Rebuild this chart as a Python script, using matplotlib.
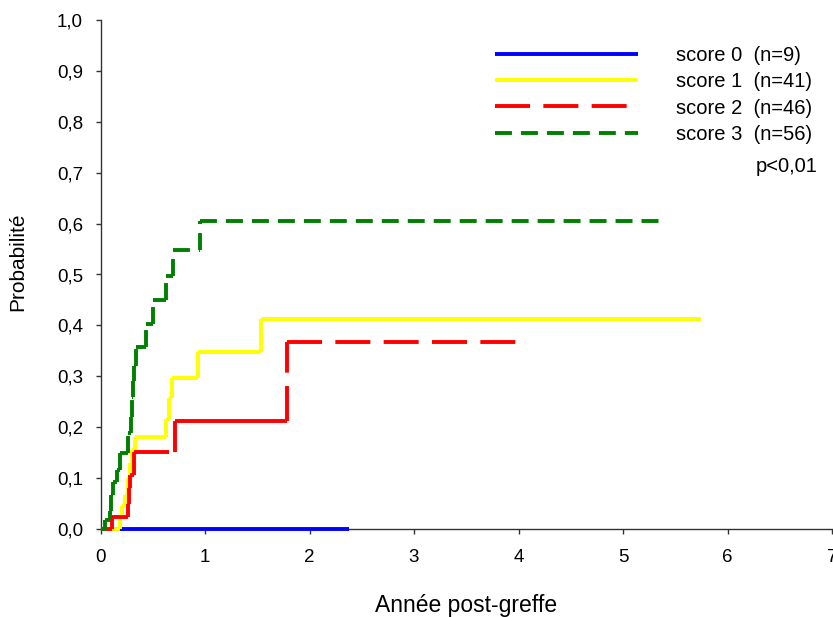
import matplotlib
matplotlib.use("Agg")
import matplotlib.pyplot as plt
from matplotlib.ticker import FuncFormatter, MultipleLocator

plt.rcParams['font.family'] = ['Liberation Sans', 'DejaVu Sans']
plt.rcParams['lines.scale_dashes'] = False

# Cumulative incidence curves (Kaplan-Meier style), time in years
t_score0 = [0.0, 2.38]
p_score0 = [0.0, 0.0]

t_score1 = [0.0, 0.19, 0.21, 0.235, 0.26, 0.28, 0.30, 0.33, 0.63, 0.66, 0.68, 0.935, 1.54, 5.75]
p_score1 = [0.0, 0.022, 0.045, 0.067, 0.10, 0.13, 0.155, 0.18, 0.217, 0.257, 0.296, 0.347, 0.412, 0.412]

t_score2 = [0.0, 0.107, 0.265, 0.275, 0.285, 0.32, 0.71, 0.84, 0.93, 1.19, 1.35, 1.45, 1.69, 1.78, 4.08]
p_score2 = [0.0, 0.024, 0.05, 0.08, 0.106, 0.152, 0.212, 0.212, 0.212, 0.212, 0.212, 0.212, 0.212,
            0.368, 0.368]

t_score3 = [0.0, 0.04, 0.09, 0.105, 0.12, 0.155, 0.186, 0.266, 0.29, 0.30, 0.31, 0.32, 0.335, 0.44,
            0.505, 0.626, 0.695, 0.95, 5.34]
p_score3 = [0.0, 0.018, 0.036, 0.067, 0.093, 0.116, 0.15, 0.188, 0.22, 0.26, 0.29, 0.32, 0.358, 0.403,
            0.449, 0.498, 0.549, 0.605, 0.605]

labels = ["score 0  (n=9)", "score 1  (n=41)", "score 2  (n=46)", "score 3  (n=56)"]
colors = ["#0000ff", "#ffff00", "#ff0000", "#008000"]
styles = ["-", "-", (0, (25.2, 9.6)), (0, (12.2, 6.5))]
p_text = "p<0,01"

xticks = [0, 1, 2, 3, 4, 5, 6, 7]

LW = 2.8

fig = plt.figure(figsize=(8.33, 6.17), dpi=100)
ax = fig.add_axes([100.5 / 833, 1 - 529 / 617, 731.5 / 833, 509 / 617])


def draw_steps(ax, t, p, color, ls, z):
    """Draw a step curve one segment at a time, so the dash pattern restarts at every corner."""
    first = None
    for i in range(len(t) - 1):
        segs = [([t[i], t[i + 1]], [p[i], p[i]])]
        if p[i + 1] != p[i]:
            segs.append(([t[i + 1], t[i + 1]], [p[i], p[i + 1]]))
        for xs, ys in segs:
            ln, = ax.plot(xs, ys, color=color, lw=LW, linestyle=ls,
                          dash_capstyle='butt', solid_capstyle='butt',
                          clip_on=False, zorder=z)
            if first is None:
                first = ln
    return first


series = [(t_score0, p_score0), (t_score1, p_score1), (t_score2, p_score2), (t_score3, p_score3)]
handles = []
for k, (t, p) in enumerate(series):
    handles.append(draw_steps(ax, t, p, colors[k], styles[k], 3 + k * 0.1))

ax.set_xlim(0, 7)
ax.set_ylim(0, 1)
ax.set_xticks(xticks)
ax.yaxis.set_major_locator(MultipleLocator(0.1))
ax.yaxis.set_major_formatter(FuncFormatter(lambda v, pos: f"{v:.1f}".replace(".", ",")))

for side in ("top", "right"):
    ax.spines[side].set_visible(False)
for side in ("left", "bottom"):
    ax.spines[side].set_linewidth(1.0)
    ax.spines[side].set_color("#333333")

ax.tick_params(axis="both", direction="out", length=3.6, width=1.0, color="#333333")
ax.tick_params(axis="y", labelsize=13.5, pad=9)
ax.tick_params(axis="x", labelsize=13.5, pad=11)

ax.set_xlabel("Année post-greffe", fontsize=16.5)
ax.xaxis.set_label_coords(0.5, (529 - 594) / 509)
ax.set_ylabel("Probabilité", fontsize=15)
ax.yaxis.set_label_coords((27 - 100.5) / 731.5, (529 - 262) / 509)

ax.legend(handles, labels, loc="upper left", bbox_to_anchor=((495 - 100.5) / 731.5, (529 - 46) / 509),
          frameon=False, fontsize=14.5, handlelength=7.1, handletextpad=1.9,
          labelspacing=0.36, borderpad=0, borderaxespad=0)

ax.text((756 - 100.5) / 731.5, (529 - 167) / 509, p_text, transform=ax.transAxes,
        fontsize=14.5, ha="left", va="center")

fig.savefig("out.png", dpi=100)
